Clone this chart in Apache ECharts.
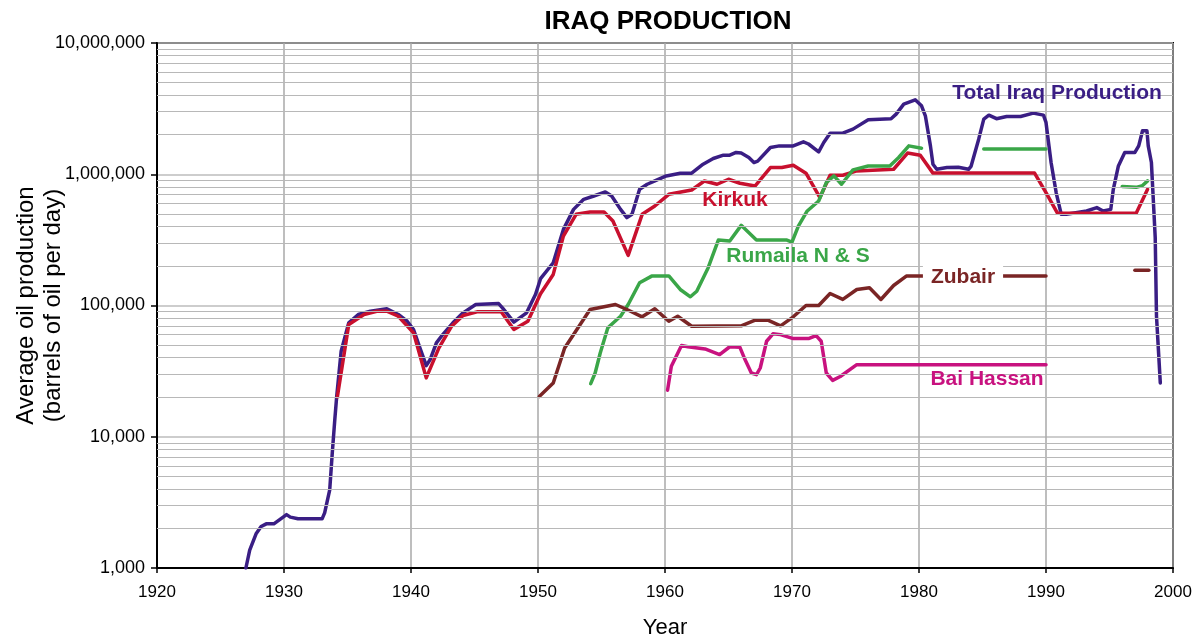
<!DOCTYPE html>
<html>
<head>
<meta charset="utf-8">
<title>Iraq Production</title>
<script src="https://cdn.jsdelivr.net/npm/echarts@6/dist/echarts.min.js"></script>
<style>
  html, body { margin: 0; padding: 0; background: #fff; }
  #chart { width: 1199px; height: 637px; }
</style>
</head>
<body>
<div id="chart"></div>
<script>
// values, [year, barrels per day]
const totalIraq = [
  [1927, 1000], [1927.3, 1370], [1927.8, 1820], [1928.2, 2070], [1928.6, 2170], [1929.2, 2170],
  [1930.2, 2550], [1930.5, 2440], [1931.1, 2370], [1933, 2370], [1933.2, 2630], [1933.6, 3940],
  [1933.8, 7500], [1934, 13500], [1934.15, 20300], [1934.5, 44800], [1935.1, 73800], [1935.85, 85400],
  [1936.8, 90500], [1938.1, 94400], [1939, 85400], [1939.7, 75900], [1940.2, 65600], [1940.7, 47500],
  [1941.2, 34800], [1941.5, 38600], [1942, 51900], [1942.5, 60100], [1943.3, 73800], [1944.1, 87900],
  [1945.1, 101800], [1946.9, 103500], [1947.2, 96000], [1948.1, 74600], [1949.1, 87900], [1949.8, 121300],
  [1950.2, 160000], [1951.2, 211800], [1952, 380000], [1952.8, 540000], [1953.6, 644000], [1954.4, 683000],
  [1955.3, 733000], [1955.8, 683000], [1956.5, 540000], [1957, 467000], [1957.4, 495000], [1958, 768000],
  [1958.6, 839000], [1959.2, 889000], [1960.1, 971000], [1961.2, 1018000], [1962.1, 1018000], [1963, 1192000],
  [1963.8, 1318000], [1964.6, 1397000], [1965.1, 1397000], [1965.6, 1465000], [1966, 1450000], [1966.6, 1341000],
  [1967, 1228000], [1967.3, 1260000], [1968.3, 1600000], [1969, 1645000], [1970.1, 1645000], [1970.9, 1765000],
  [1971.3, 1700000], [1972.1, 1480000], [1972.5, 1745000], [1973, 2056000], [1974, 2056000], [1974.8, 2207000],
  [1976, 2600000], [1977.8, 2650000], [1978.2, 2871000], [1978.8, 3420000], [1979.7, 3690000], [1980.2, 3320000],
  [1980.5, 2787000], [1980.9, 1645000], [1981.1, 1192000], [1981.4, 1092000], [1982.2, 1125000], [1983.1, 1130000],
  [1983.9, 1092000], [1984.1, 1150000], [1984.7, 1850000], [1985.1, 2630000], [1985.5, 2820000], [1986.1, 2650000],
  [1986.9, 2756000], [1988, 2756000], [1989, 2923000], [1989.8, 2820000], [1990, 2482000], [1990.4, 1228000],
  [1990.8, 725000], [1991.2, 495000], [1991.6, 495000], [1993.2, 525000], [1994, 557000], [1994.5, 525000],
  [1995.1, 540000], [1995.3, 768000], [1995.7, 1157000], [1996.2, 1465000], [1997, 1465000], [1997.3, 1645000],
  [1997.6, 2143000], [1997.95, 2143000], [1998.05, 1645000], [1998.3, 1228000], [1998.6, 330000], [1998.7, 83000],
  [1999, 25700]
];
const kirkuk = [
  [1934.2, 20100], [1935.1, 71600], [1936.3, 85400], [1937.3, 90500], [1938.1, 90500], [1939, 82800],
  [1940.2, 61900], [1941.2, 28100], [1942.2, 47500], [1943.2, 69500], [1944.1, 83900], [1945.2, 89500],
  [1947.1, 89500], [1948.1, 65600], [1949.2, 75900], [1950.2, 123000], [1951.2, 172500], [1952, 338000],
  [1953, 495000], [1954.1, 515000], [1955.2, 515000], [1955.9, 440000], [1957.1, 241000], [1958.2, 495000],
  [1959.2, 573000], [1960.3, 703000], [1962.1, 759000], [1963.1, 889000], [1964.1, 839000], [1965, 916000],
  [1965.9, 854000], [1967.1, 814000], [1968.3, 1125000], [1969.2, 1125000], [1970.1, 1172000], [1971.1, 1018000],
  [1972.2, 664000], [1973, 983000], [1974, 983000], [1975.1, 1060000], [1978, 1092000], [1979.1, 1450000],
  [1980.1, 1397000], [1981.1, 1020000], [1989.1, 1020000], [1990, 725000], [1990.9, 505000], [1997.1, 505000],
  [1998, 768000]
];
const rumailaEarly = [
  [1954.15, 25400], [1954.5, 30600], [1954.9, 43500], [1955.5, 67600], [1956.5, 82800], [1957.1, 101800],
  [1958, 149000], [1958.95, 167500], [1960.3, 168000], [1961.2, 132500], [1962, 116500], [1962.5, 128500],
  [1963.4, 194000], [1964.2, 315000], [1965.1, 310000], [1966, 408000], [1967.2, 315000], [1969.6, 315000],
  [1970, 304000], [1970.5, 403000], [1971.2, 525000], [1972.1, 625000], [1972.7, 864000], [1973.3, 971000],
  [1973.9, 839000], [1974.8, 1079000], [1976, 1157000], [1977.7, 1157000], [1978.4, 1341000], [1979.2, 1645000],
  [1980.2, 1580000]
];
const rumailaMid = [[1985.1, 1560000], [1990, 1560000]];
const rumailaLate = [[1996, 805000], [1997.1, 795000], [1997.6, 820000], [1998, 890000]];
const zubairEarly = [
  [1950.1, 20300], [1951.2, 25700], [1952.1, 47500], [1954.1, 93200], [1956.1, 101800], [1957, 93200],
  [1958.2, 82000], [1959.2, 94400], [1960.3, 75900], [1961, 82800], [1962.1, 69500], [1966, 70000],
  [1967.1, 77300], [1968.1, 77300], [1969.1, 70000], [1970.1, 82000], [1971.1, 100000], [1972.1, 100000],
  [1973, 123500], [1974, 111200], [1975.1, 132500], [1976.1, 136500], [1977, 111200], [1978, 142100],
  [1979, 167500], [1990, 167500]
];
const zubairLate = [[1997, 186000], [1998.1, 186000]];
const baiHassan = [
  [1960.2, 22600], [1960.5, 34400], [1961.3, 49500], [1961.8, 48500], [1963.15, 46700], [1964.3, 42300],
  [1965.1, 48500], [1965.9, 48000], [1966.3, 38700], [1966.8, 30600], [1967.2, 29700], [1967.5, 33400],
  [1968, 53400], [1968.5, 60800], [1969.1, 60000], [1970.1, 56000], [1971.3, 56000], [1971.9, 59000],
  [1972.3, 53400], [1972.7, 30600], [1973.2, 26900], [1973.8, 28800], [1975.1, 35400], [1990, 35400]
];
// log grid lines at 2..9 of each decade
const minorSteps = [2, 3, 4, 5, 6, 7, 8, 9];
const decades = [1000, 10000, 100000, 1000000];

const FONT = "'Liberation Sans', Arial, Helvetica, sans-serif";
const C_TOTAL = "#3a1e84";
const C_KIRKUK = "#c8102e";
const C_RUMAILA = "#3aa648";
const C_ZUBAIR = "#7a2525";
const C_BAI = "#c8127f";

const minorLines = [];
decades.forEach((d) => minorSteps.forEach((s) => minorLines.push({ yAxis: d * s })));

function lineSeries(name, data, color) {
  return {
    name: name,
    type: "line",
    data: data,
    showSymbol: false,
    symbol: "none",
    smooth: false,
    lineStyle: { color: color, width: 3.5, join: "round", cap: "round" },
    z: 3,
  };
}

const chart = echarts.init(document.getElementById("chart"), null, { renderer: "canvas" });

const options = {
  animation: false,
  backgroundColor: "#fff",
  title: {
    text: "IRAQ PRODUCTION",
    left: 663,
    top: 4,
    textAlign: "center",
    textStyle: { fontFamily: FONT, fontSize: 26, fontWeight: "bold", color: "#000" },
  },
  grid: {
    left: 157,
    right: 26,
    top: 43,
    bottom: 69,
    outerBoundsMode: "none",
    containLabel: false,
    show: true,
    borderColor: "#000",
    borderWidth: 2,
    backgroundColor: "transparent",
  },
  xAxis: {
    type: "value",
    min: 1920,
    max: 2000,
    interval: 10,
    name: "Year",
    nameLocation: "middle",
    nameGap: 49,
    nameMoveOverlap: false,
    nameTextStyle: { fontFamily: FONT, fontSize: 22, color: "#000" },
    axisLine: { show: true, lineStyle: { color: "#000", width: 2 } },
    axisTick: { show: true, length: 5, lineStyle: { color: "#000", width: 1.5 } },
    axisLabel: { fontFamily: FONT, fontSize: 17, color: "#000", margin: 16, formatter: (v) => String(v) },
    splitLine: { show: true, lineStyle: { color: "#a8a8a8", width: 1.5 } },
  },
  yAxis: {
    type: "log",
    logBase: 10,
    min: 1000,
    max: 10000000,
    name: "Average oil production\n(barrels of oil per day)",
    nameLocation: "middle",
    nameGap: 90,
    nameMoveOverlap: false,
    nameTextStyle: { fontFamily: FONT, fontSize: 24, color: "#000", lineHeight: 27 },
    axisLine: { show: true, lineStyle: { color: "#000", width: 2 } },
    axisTick: { show: true, length: 6, lineStyle: { color: "#000", width: 1.5 } },
    axisLabel: {
      fontFamily: FONT,
      fontSize: 18,
      color: "#000",
      margin: 12,
      formatter: (v) => Math.round(v).toLocaleString("en-US"),
    },
    splitLine: { show: true, lineStyle: { color: "#bdbdbd", width: 1.5 } },
  },
  series: [
    {
      type: "line",
      data: [],
      silent: true,
      z: 1,
      markLine: {
        silent: true,
        symbol: "none",
        label: { show: false },
        animation: false,
        lineStyle: { color: "#b8b8b8", width: 1.2, type: "solid" },
        data: minorLines,
      },
    },
    lineSeries("Total Iraq Production", totalIraq, C_TOTAL),
    lineSeries("Kirkuk", kirkuk, C_KIRKUK),
    lineSeries("Rumaila N & S", rumailaEarly, C_RUMAILA),
    lineSeries("Rumaila N & S", rumailaMid, C_RUMAILA),
    lineSeries("Rumaila N & S", rumailaLate, C_RUMAILA),
    lineSeries("Zubair", zubairEarly, C_ZUBAIR),
    lineSeries("Zubair", zubairLate, C_ZUBAIR),
    lineSeries("Bai Hassan", baiHassan, C_BAI),
  ],
  graphic: [
    { text: "Total Iraq Production", x: 1057, y: 93, color: C_TOTAL },
    { text: "Kirkuk", x: 735, y: 200, color: C_KIRKUK },
    { text: "Rumaila N & S", x: 798, y: 256, color: C_RUMAILA },
    { text: "Zubair", x: 963, y: 277, color: C_ZUBAIR, bg: "#fff" },
    { text: "Bai Hassan", x: 987, y: 379, color: C_BAI },
  ].map((l) => ({
    type: "text",
    x: l.x,
    y: l.y,
    z: 100,
    style: {
      text: l.text,
      fill: l.color,
      font: "bold 21px " + FONT,
      align: "center",
      verticalAlign: "middle",
      backgroundColor: l.bg || null,
      padding: l.bg ? [4, 8] : 0,
    },
  })),
};

chart.setOption(options);

window.addEventListener("resize", () => {
  chart.resize();
});
</script>
</body>
</html>
